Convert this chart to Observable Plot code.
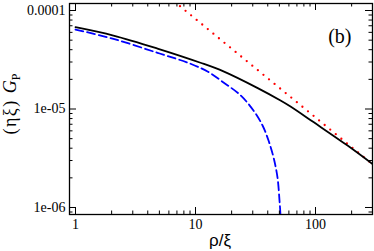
<!DOCTYPE html>
<html>
<head>
<meta charset="utf-8">
<script src="https://cdn.jsdelivr.net/npm/d3@7"></script>
<script src="https://cdn.jsdelivr.net/npm/@observablehq/plot@0.6"></script>
<style>
  html, body { margin: 0; padding: 0; background: white; }
  #chart svg { display: block; }
</style>
</head>
<body>
<div id="chart"></div>
<script>
// ---- data ----
const rhoBlack = [1, 2.07, 4.82, 11.0, 17.1, 33, 51.1, 61.9, 96.2, 185, 300];
const gBlack   = [6.77e-5, 5.57e-5, 4.11e-5, 2.95e-5, 2.41e-5, 1.63e-5, 1.22e-5, 1.06e-5, 7.36e-6, 4.25e-6, 2.75e-6];

const rhoBlue = [1, 2.07, 4.82, 9.09, 12.6, 17.1, 23.7, 30.4, 36.2, 40.6, 44.7, 48.2, 50.1, 51.1, 51.4];
const gBlue   = [6.41e-5, 5.15e-5, 3.72e-5, 2.88e-5, 2.4e-5, 1.86e-5, 1.38e-5, 9.66e-6, 6.8e-6, 4.78e-6, 3.22e-6, 2.02e-6, 1.18e-6, 8.0e-7, 3.0e-7];

const rhoRed = [6, 10, 30, 100, 300];
const gRed   = [1.37e-4, 8.2e-5, 2.73e-5, 8.2e-6, 2.73e-6];

const xTicks = [1, 10, 100];
const xTickLabels = ["1", "10", "100"];
const xMinor = [2,3,4,5,6,7,8,9,20,30,40,50,60,70,80,90,200];
const yTicks = [1e-4, 1e-5, 1e-6];
const yTickLabels = ["0.0001", "1e-05", "1e-06"];
const yMinor = [9e-7,2e-6,3e-6,4e-6,5e-6,6e-6,7e-6,8e-6,9e-6,2e-5,3e-5,4e-5,5e-5,6e-5,7e-5,8e-5,9e-5];

const panelLabel = "(b)";
const xTitle = "ρ/ξ";

// ---- layout ----
const W = 374, H = 251;
const mT = 3, mR = 2, mB = 37, mL = 69;
const fw = W - mL - mR, fh = H - mT - mB;
const major = 7, minor = 3.5;

const toRows = (xs, ys) => xs.map((x, i) => ({x, y: ys[i]}));

const chart = Plot.plot({
  width: W, height: H,
  marginTop: mT, marginRight: mR, marginBottom: mB, marginLeft: mL,
  style: {fontFamily: "'Liberation Serif', serif", background: "white", color: "black"},
  x: {type: "log", domain: [0.891, 298.5], axis: null},
  y: {type: "log", domain: [8.49e-7, 1.178e-4], axis: null},
  marks: [
    Plot.line(toRows(rhoRed, gRed), {x: "x", y: "y", stroke: "#ff0000", strokeWidth: 2.3, strokeDasharray: "0,7.2", strokeLinecap: "round", clip: true}),
    Plot.line(toRows(rhoBlue, gBlue), {x: "x", y: "y", stroke: "#0000ff", strokeWidth: 1.8, strokeDasharray: "8,4", curve: "catmull-rom", clip: true}),
    Plot.line(toRows(rhoBlack, gBlack), {x: "x", y: "y", stroke: "black", strokeWidth: 1.8, curve: "catmull-rom", clip: true}),
    // inward ticks on all four sides
    Plot.tickX(xTicks, {x: d => d, insetTop: fh - major, strokeWidth: 1}),
    Plot.tickX(xTicks, {x: d => d, insetBottom: fh - major, strokeWidth: 1}),
    Plot.tickX(xMinor, {x: d => d, insetTop: fh - minor, strokeWidth: 1}),
    Plot.tickX(xMinor, {x: d => d, insetBottom: fh - minor, strokeWidth: 1}),
    Plot.tickY(yTicks, {y: d => d, insetRight: fw - major, strokeWidth: 1}),
    Plot.tickY(yTicks, {y: d => d, insetLeft: fw - major, strokeWidth: 1}),
    Plot.tickY(yMinor, {y: d => d, insetRight: fw - minor, strokeWidth: 1}),
    Plot.tickY(yMinor, {y: d => d, insetLeft: fw - minor, strokeWidth: 1}),
    Plot.axisX(xTicks, {anchor: "bottom", tickSize: 0, tickPadding: 5, fontSize: 14, label: null,
      tickFormat: d => xTickLabels[xTicks.indexOf(d)]}),
    Plot.axisY(yTicks, {anchor: "left", tickSize: 0, tickPadding: 4, fontSize: 14, label: null,
      tickFormat: d => yTickLabels[yTicks.indexOf(d)]}),
    Plot.text([panelLabel], {text: d => d, frameAnchor: "top-right", dx: -21, dy: 25, textAnchor: "end", fontSize: 20}),
    Plot.frame({stroke: "black", strokeWidth: 1.3})
  ]
});

document.getElementById("chart").appendChild(chart);

const svg = d3.select(chart);
// y-axis title: (ηξ) G_P
const yt = svg.append("text")
  .attr("transform", "translate(16,104) rotate(-90)")
  .attr("text-anchor", "middle")
  .style("font-family", "'Liberation Serif', serif")
  .style("font-size", "18px")
  .attr("fill", "black");
yt.append("tspan").style("letter-spacing", "1.5px").text("(ηξ) ");
yt.append("tspan").style("font-style", "italic").text("G");
yt.append("tspan").attr("dy", 4).style("font-size", "12px").text("P");

// x-axis title
svg.append("text")
  .attr("x", 220).attr("y", 246)
  .attr("text-anchor", "middle")
  .style("font-family", "'Liberation Sans', sans-serif")
  .style("font-size", "17px")
  .attr("fill", "black")
  .text(xTitle);
</script>
</body>
</html>
